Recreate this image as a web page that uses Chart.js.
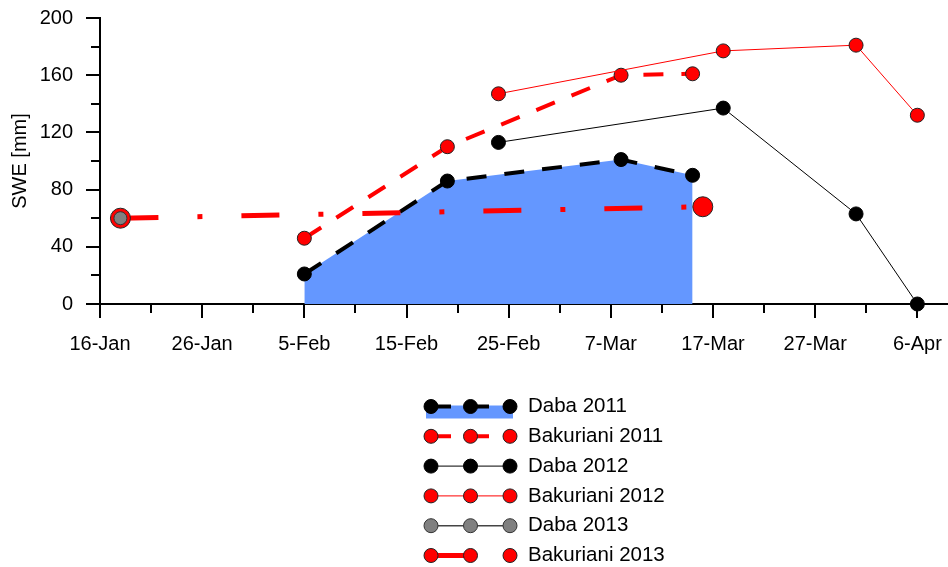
<!DOCTYPE html>
<html>
<head>
<meta charset="utf-8">
<title>SWE</title>
<script src="https://cdn.jsdelivr.net/npm/chart.js@4.4.1/dist/chart.umd.min.js"></script>
<style>
  html, body { margin: 0; padding: 0; background: #fff; }
</style>
</head>
<body>
<canvas id="grafico" width="948" height="567"></canvas>
<script>
// eixo x em dia do ano (16-Jan = 16)
const tickDays = [16, 26, 36, 46, 56, 66, 76, 86, 96];
const tickLabels = ['16-Jan', '26-Jan', '5-Feb', '15-Feb', '25-Feb', '7-Mar', '17-Mar', '27-Mar', '6-Apr'];
const minorDays = [21, 31, 41, 51, 61, 71, 81, 91];
const minorSwe = [20, 60, 100, 140, 180];

const daba2011Dates = ['5-Feb', '19-Feb', '8-Mar', '15-Mar'];
const daba2011Swe = [21, 86, 101, 90];
const bakuriani2011Dates = ['5-Feb', '19-Feb', '8-Mar', '15-Mar'];
const bakuriani2011Swe = [46, 110, 160, 161];
const daba2012Dates = ['24-Feb', '18-Mar', '31-Mar', '6-Apr'];
const daba2012Swe = [113, 137, 63, 0];
const bakuriani2012Dates = ['24-Feb', '18-Mar', '31-Mar', '6-Apr'];
const bakuriani2012Swe = [147, 177, 181, 132];
const daba2013Dates = ['18-Jan'];
const daba2013Swe = [60];
const bakuriani2013Dates = ['18-Jan', '16-Mar'];
const bakuriani2013Swe = [60, 68];

const mesInicio = { Jan: 0, Feb: 31, Mar: 59, Apr: 90 };

function diaDoAno(txt) {
    const [d, m] = txt.split('-');
    return mesInicio[m] + Number(d);
}

function pontos(datas, valores) {
    return datas.map((t, i) => ({ x: diaDoAno(t), y: valores[i] }));
}

Chart.defaults.font.family = '"Liberation Sans", Arial, sans-serif';
Chart.defaults.font.size = 20;
Chart.defaults.color = '#000';

// ticks menores (mais curtos) nos dois eixos
const ticksMenores = {
    id: 'ticksMenores',
    beforeDatasetsDraw(chart) {
        const { ctx, chartArea } = chart;
        const x = chart.scales.x, y = chart.scales.y;
        ctx.save();
        ctx.strokeStyle = '#000';
        ctx.lineWidth = 2;
        ctx.beginPath();
        minorDays.forEach(d => {
            const px = Math.round(x.getPixelForValue(d));
            ctx.moveTo(px, chartArea.bottom);
            ctx.lineTo(px, chartArea.bottom + 9);
        });
        minorSwe.forEach(v => {
            const py = Math.round(y.getPixelForValue(v));
            ctx.moveTo(chartArea.left, py);
            ctx.lineTo(chartArea.left - 9, py);
        });
        ctx.stroke();
        ctx.restore();
    }
};

// legenda em coluna embaixo do grafico
const legendaColuna = {
    id: 'legendaColuna',
    afterDraw(chart) {
        const ctx = chart.ctx;
        const xs = [431, 470.5, 510];
        chart.data.datasets.forEach((ds, i) => {
            const yy = 406.5 + i * 29.8;
            ctx.save();
            if (ds.fill) {
                ctx.fillStyle = ds.backgroundColor;
                ctx.fillRect(426, yy - 1, 87, 13);
            }
            ctx.strokeStyle = ds.borderColor;
            ctx.lineWidth = ds.borderWidth;
            ctx.setLineDash(ds.borderDash || []);
            ctx.beginPath();
            ctx.moveTo(xs[0], yy);
            ctx.lineTo(xs[2], yy);
            ctx.stroke();
            ctx.setLineDash([]);
            xs.forEach(px => {
                ctx.beginPath();
                ctx.arc(px, yy, 7, 0, Math.PI * 2);
                ctx.fillStyle = ds.pointBackgroundColor;
                ctx.fill();
                ctx.lineWidth = 1;
                ctx.strokeStyle = ds.pointBorderColor;
                ctx.stroke();
            });
            ctx.fillStyle = '#000';
            ctx.font = '20.5px "Liberation Sans", Arial, sans-serif';
            ctx.textBaseline = 'middle';
            ctx.textAlign = 'left';
            ctx.fillText(ds.label, 528, yy);
            ctx.restore();
        });
    }
};

var ctx1 = document.getElementById('grafico').getContext('2d');
var grafico = new Chart(ctx1, {
    type: 'line',
    data: {
        datasets: [{
            label: 'Daba 2011',
            data: pontos(daba2011Dates, daba2011Swe),
            borderColor: '#000',
            borderWidth: 4,
            borderDash: [20, 18],
            backgroundColor: '#6497ff',
            fill: 'origin',
            pointRadius: 7,
            pointBackgroundColor: '#000',
            pointBorderColor: '#000',
            pointBorderWidth: 1,
            order: 5
        }, {
            label: 'Bakuriani 2011',
            data: pontos(bakuriani2011Dates, bakuriani2011Swe),
            borderColor: '#ff0000',
            borderWidth: 4,
            borderDash: [20, 18],
            pointRadius: 7,
            pointBackgroundColor: '#ff0000',
            pointBorderColor: '#222',
            pointBorderWidth: 1,
            order: 4
        }, {
            label: 'Daba 2012',
            data: pontos(daba2012Dates, daba2012Swe),
            borderColor: '#000',
            borderWidth: 1,
            pointRadius: 7,
            pointBackgroundColor: '#000',
            pointBorderColor: '#000',
            pointBorderWidth: 1,
            order: 3
        }, {
            label: 'Bakuriani 2012',
            data: pontos(bakuriani2012Dates, bakuriani2012Swe),
            borderColor: '#ff0000',
            borderWidth: 1,
            pointRadius: 7,
            pointBackgroundColor: '#ff0000',
            pointBorderColor: '#222',
            pointBorderWidth: 1,
            order: 2
        }, {
            label: 'Daba 2013',
            data: pontos(daba2013Dates, daba2013Swe),
            borderColor: '#444',
            borderWidth: 1.5,
            pointRadius: 6.5,
            pointBackgroundColor: '#808080',
            pointBorderColor: '#333',
            pointBorderWidth: 1,
            order: 0
        }, {
            label: 'Bakuriani 2013',
            data: pontos(bakuriani2013Dates, bakuriani2013Swe),
            borderColor: '#ff0000',
            borderWidth: 5,
            borderDash: [38, 39, 5, 39],
            pointRadius: 10,
            pointBackgroundColor: '#ff0000',
            pointBorderColor: '#222',
            pointBorderWidth: 1,
            order: 1
        }]
    },
    options: {
        responsive: false,
        animation: false,
        clip: false,
        layout: {
            autoPadding: false,
            padding: { top: 18, right: 0, bottom: 0, left: 0 }
        },
        scales: {
            x: {
                type: 'linear',
                min: 16,
                max: 99,
                afterBuildTicks: s => { s.ticks = tickDays.map(v => ({ value: v })); },
                afterFit: s => { s.height = 263; s.paddingLeft = 0; s.paddingRight = 0; },
                ticks: {
                    autoSkip: false,
                    maxRotation: 0,
                    padding: 14,
                    callback: (v, i) => tickLabels[i]
                },
                grid: {
                    display: true,
                    drawOnChartArea: false,
                    drawTicks: true,
                    tickLength: 14,
                    lineWidth: 2,
                    color: '#000'
                },
                border: { display: true, width: 2, color: '#000' }
            },
            y: {
                min: 0,
                max: 200,
                afterFit: s => { s.width = 100; s.paddingTop = 0; s.paddingBottom = 0; },
                ticks: { stepSize: 40, padding: 13 },
                title: {
                    display: true,
                    text: 'SWE [mm]',
                    padding: { top: 8, bottom: 0 }
                },
                grid: {
                    display: true,
                    drawOnChartArea: false,
                    drawTicks: true,
                    tickLength: 14,
                    lineWidth: 2,
                    color: '#000'
                },
                border: { display: true, width: 2, color: '#000' }
            }
        },
        plugins: {
            legend: { display: false },
            tooltip: { enabled: false },
            filler: { drawTime: 'beforeDatasetsDraw' }
        }
    },
    plugins: [ticksMenores, legendaColuna]
});
</script>
</body>
</html>
